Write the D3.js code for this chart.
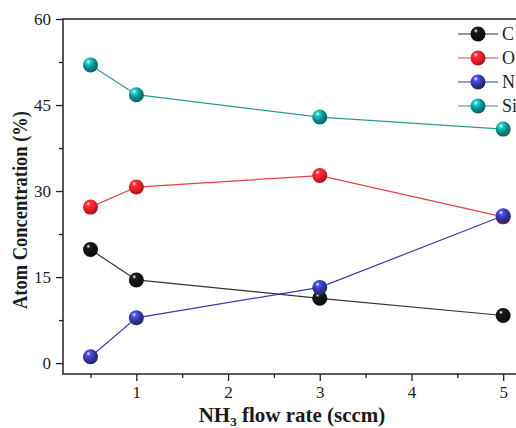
<!DOCTYPE html>
<html><head><meta charset="utf-8">
<script src="https://cdn.jsdelivr.net/npm/d3@7"></script>
<style>body{margin:0;background:#fff;overflow:hidden}svg{display:block}</style>
</head><body>
<svg id="c" width="516" height="428"></svg>
<script>
const flowRate = [0.5, 1, 3, 5];
const seriesNames = ["C", "O", "N", "Si"];
const valuesC  = [19.8, 14.5, 11.3, 8.3];
const valuesO  = [27.2, 30.7, 32.7, 25.5];
const valuesN  = [1.1, 7.9, 13.2, 25.7];
const valuesSi = [52.0, 46.8, 42.9, 40.8];
const xTicks = [1, 2, 3, 4, 5];
const yTicks = [0, 15, 30, 45, 60];

const colors = {C:"#111111", O:"#e41e26", N:"#34349e", Si:"#0e8a86"};
const lineColors = {C:"#333333", O:"#e04048", N:"#3c3ca8", Si:"#2a9893"};
const series = [
  {name:"C", values:valuesC},
  {name:"O", values:valuesO},
  {name:"N", values:valuesN},
  {name:"Si", values:valuesSi}
];

const svg = d3.select("#c");
const mLeft = 63, mTop = 19, mBottom = 374;
const x = d3.scaleLinear().domain([0.2, 5.3]).range([mLeft, mLeft + (5.3-0.2)*91.7]);
const y = d3.scaleLinear().domain([-1.9, 60]).range([mBottom, mTop]);

// gradients
const defs = svg.append("defs");
series.forEach(s => {
  const g = defs.append("radialGradient").attr("id","g"+s.name)
    .attr("cx","0.4").attr("cy","0.35").attr("r","0.65").attr("fx","0.35").attr("fy","0.28");
  g.append("stop").attr("offset","0").attr("stop-color","#ffffff");
  g.append("stop").attr("offset","0.22").attr("stop-color", d3.color(colors[s.name]).brighter(1.2));
  g.append("stop").attr("offset","0.6").attr("stop-color", colors[s.name]);
  g.append("stop").attr("offset","1").attr("stop-color", d3.color(colors[s.name]).darker(1));
});

const font = "'Liberation Serif','Times New Roman',serif";

// frame
svg.append("rect").attr("x",mLeft).attr("y",mTop).attr("width",x.range()[1]-mLeft).attr("height",mBottom-mTop)
  .attr("fill","none").attr("stroke","#222").attr("stroke-width",1.5);

// x axis
const xAxis = d3.axisBottom(x).tickValues(xTicks).tickSize(7).tickPadding(5).tickFormat(d3.format("d"));
const gx = svg.append("g").attr("transform",`translate(0,${mBottom})`).call(xAxis);
gx.select(".domain").remove();
gx.selectAll(".tick line").attr("stroke","#222").attr("stroke-width",1.3);
gx.selectAll(".tick text").attr("font-family",font).attr("font-size",17).attr("fill","#222");
const gxm = svg.append("g").attr("transform",`translate(0,${mBottom})`)
  .call(d3.axisBottom(x).tickValues([0.5,1.5,2.5,3.5,4.5]).tickSize(4).tickFormat(""));
gxm.select(".domain").remove();
gxm.selectAll(".tick line").attr("stroke","#222").attr("stroke-width",1.3);

// y axis
const yAxis = d3.axisLeft(y).tickValues(yTicks).tickSize(7).tickPadding(5);
const gy = svg.append("g").attr("transform",`translate(${mLeft},0)`).call(yAxis);
gy.select(".domain").remove();
gy.selectAll(".tick line").attr("stroke","#222").attr("stroke-width",1.3);
gy.selectAll(".tick text").attr("font-family",font).attr("font-size",17).attr("fill","#222");
const gym = svg.append("g").attr("transform",`translate(${mLeft},0)`)
  .call(d3.axisLeft(y).tickValues([7.5,22.5,37.5,52.5]).tickSize(4).tickFormat(""));
gym.select(".domain").remove();
gym.selectAll(".tick line").attr("stroke","#222").attr("stroke-width",1.3);

// axis labels
svg.append("text").attr("transform","translate(27,210) rotate(-90) scale(0.88,1)").attr("text-anchor","middle")
  .attr("font-family",font).attr("font-weight","bold").attr("font-size",21).attr("fill","#1a1a1a")
  .text("Atom Concentration (%)");
const xl = svg.append("text").attr("x",292).attr("y",422).attr("text-anchor","middle")
  .attr("font-family",font).attr("font-weight","bold").attr("font-size",21).attr("fill","#1a1a1a");
xl.append("tspan").text("NH");
xl.append("tspan").attr("font-size",13).attr("dy",4).text("3");
xl.append("tspan").attr("dy",-4).text(" flow rate (sccm)");

// lines & markers
const line = d3.line().x((d,i)=>x(flowRate[i])).y(d=>y(d));
series.forEach(s => {
  svg.append("path").attr("d", line(s.values)).attr("fill","none")
    .attr("stroke", lineColors[s.name]).attr("stroke-width",1.2);
});
series.forEach(s => {
  svg.selectAll(null).data(s.values).enter().append("circle")
    .attr("cx",(d,i)=>x(flowRate[i])).attr("cy",d=>y(d)).attr("r",7.5)
    .attr("fill",`url(#g${s.name})`);
});

// legend
const lg = svg.append("g");
series.forEach((s,i) => {
  const cy = 34 + i*24;
  lg.append("line").attr("x1",458).attr("x2",498).attr("y1",cy).attr("y2",cy)
    .attr("stroke",lineColors[s.name]).attr("stroke-width",1.2);
  lg.append("circle").attr("cx",478).attr("cy",cy).attr("r",7.5).attr("fill",`url(#g${s.name})`);
  lg.append("text").attr("x",502).attr("y",cy+6).attr("font-family",font).attr("font-size",18)
    .attr("fill","#222").text(s.name);
});
</script>
</body></html>
